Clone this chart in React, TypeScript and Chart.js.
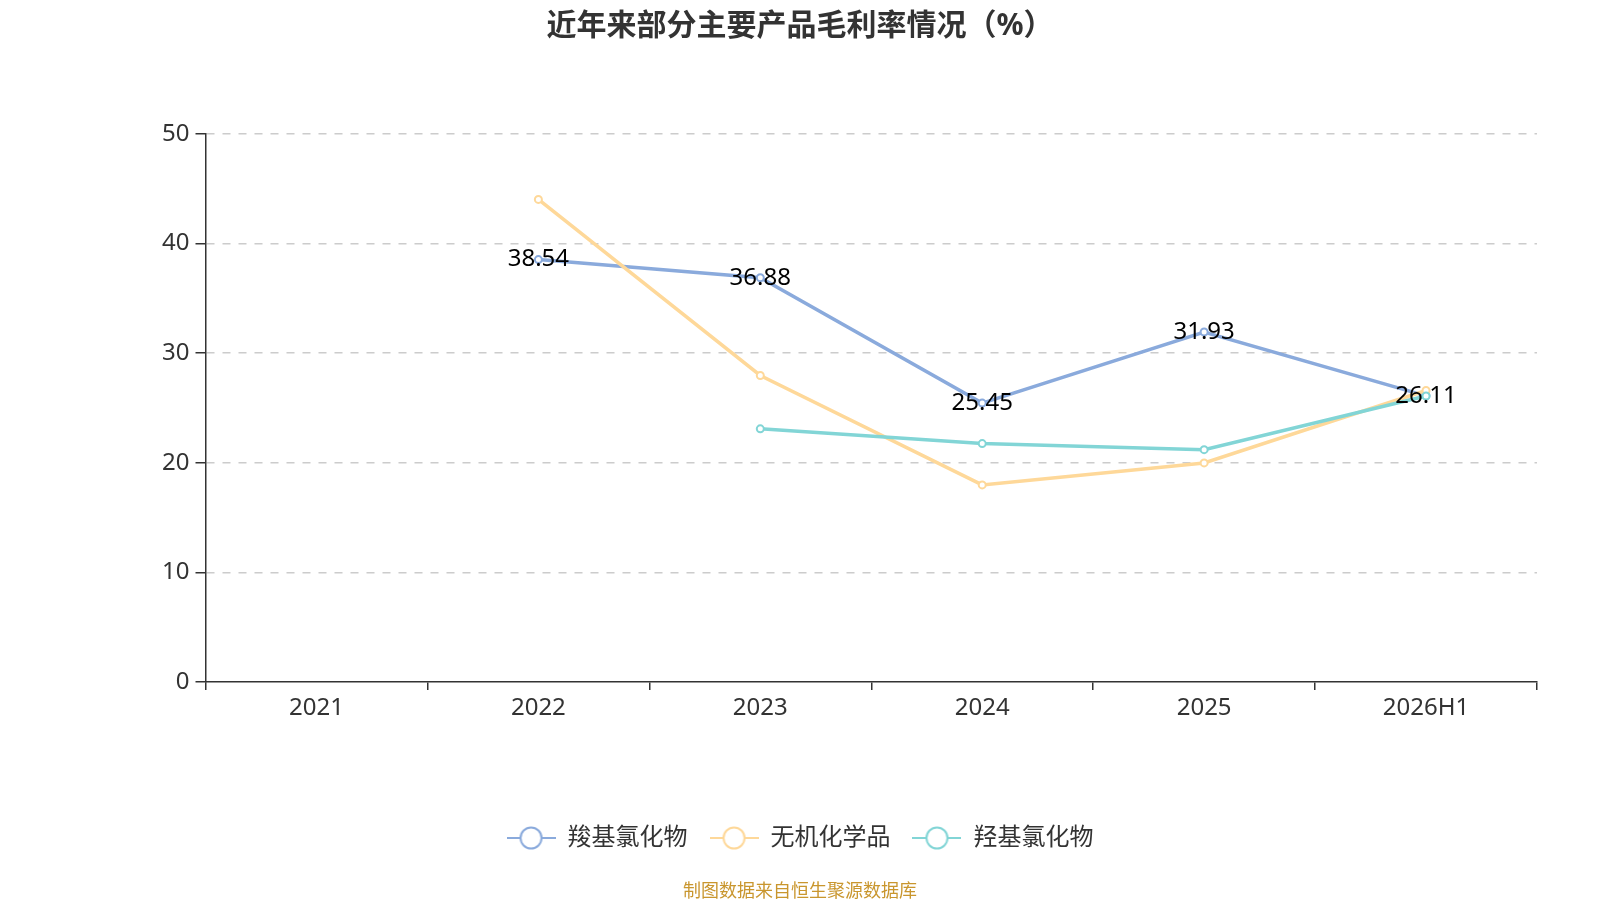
import { useEffect, useRef } from "react"
import { Chart, registerables } from "chart.js"

Chart.register(...registerables)

const FONT = "'Noto Sans', 'Noto Sans CJK SC', sans-serif"

const categories = ["2021", "2022", "2023", "2024", "2025", "2026H1"]
const carboxylChloride = [null, 38.54, 36.88, 25.45, 31.93, 26.11]
const inorganicChem = [null, 44.03, 27.97, 17.98, 19.99, 26.6]
const hydroxylChloride = [null, null, 23.1, 21.75, 21.2, 26.1]
const seriesNames = ["羧基氯化物", "无机化学品", "羟基氯化物"]
const seriesColors = ["#8aaadc", "#fed899", "#82d5d6"]
const yTicks = [0, 10, 20, 30, 40, 50]

// legend icon: short line with a hollow circle in the middle
function makeIcon(color: string) {
  const c = document.createElement("canvas")
  c.width = 49
  c.height = 26
  const ctx = c.getContext("2d")!
  ctx.strokeStyle = color
  ctx.lineWidth = 2
  ctx.beginPath()
  ctx.moveTo(0, 13)
  ctx.lineTo(49, 13)
  ctx.stroke()
  ctx.beginPath()
  ctx.arc(24.5, 13, 10.5, 0, Math.PI * 2)
  ctx.fillStyle = "#fff"
  ctx.fill()
  ctx.stroke()
  return c
}

// value labels on the first series
const valueLabels = {
  id: "valueLabels",
  afterDatasetsDraw(chart: any) {
    const { ctx } = chart
    const meta = chart.getDatasetMeta(0)
    ctx.save()
    ctx.font = `24px ${FONT}`
    ctx.fillStyle = "#000"
    ctx.textAlign = "center"
    ctx.textBaseline = "middle"
    meta.data.forEach((pt: any, i: number) => {
      const v = carboxylChloride[i]
      if (v == null) return
      ctx.fillText(v.toFixed(2), pt.x, pt.y)
    })
    ctx.restore()
  }
}

const sourceNote = {
  id: "sourceNote",
  afterDraw(chart: any) {
    const { ctx } = chart
    ctx.save()
    ctx.font = `18px ${FONT}`
    ctx.fillStyle = "#c9962e"
    ctx.textAlign = "center"
    ctx.textBaseline = "middle"
    ctx.fillText("制图数据来自恒生聚源数据库", chart.width / 2, 892)
    ctx.restore()
  }
}

export default function App() {
  const chartRef = useRef<HTMLCanvasElement>(null)
  const chartInstance = useRef<Chart | null>(null)

  useEffect(() => {
    if (!chartRef.current) return
    if (chartInstance.current) chartInstance.current.destroy()
    const icons = seriesColors.map(makeIcon)
    const values = [carboxylChloride, inorganicChem, hydroxylChloride]

    chartInstance.current = new Chart(chartRef.current, {
      type: "line",
      data: {
        labels: categories,
        datasets: values.map((d, i) => ({
          label: seriesNames[i],
          data: d,
          borderColor: seriesColors[i],
          backgroundColor: "#fff",
          borderWidth: 3.5,
          tension: 0,
          pointRadius: 3.5,
          pointBorderWidth: 2,
          pointBackgroundColor: "#fff",
          pointBorderColor: seriesColors[i],
          order: 3 - i
        }))
      },
      options: {
        animation: false,
        responsive: true,
        maintainAspectRatio: false,
        layout: { padding: { left: 63, right: 63, top: 0, bottom: 40 } },
        plugins: {
          title: {
            display: true,
            text: "近年来部分主要产品毛利率情况（%）",
            color: "#333",
            font: { family: FONT, size: 30, weight: "bold" },
            padding: { top: 8, bottom: 90 }
          },
          legend: {
            position: "bottom",
            labels: {
              usePointStyle: true,
              pointStyleWidth: 49,
              padding: 22,
              color: "#333",
              font: { family: FONT, size: 24 },
              generateLabels: (chart: any) =>
                chart.data.datasets.map((ds: any, i: number) => ({
                  text: ds.label,
                  fillStyle: "#fff",
                  strokeStyle: ds.borderColor,
                  lineWidth: 0,
                  pointStyle: icons[i],
                  datasetIndex: i,
                  hidden: false,
                  fontColor: "#333"
                }))
            }
          },
          tooltip: { enabled: false }
        },
        scales: {
          x: {
            offset: true,
            grid: {
              offset: true,
              drawOnChartArea: false,
              color: "#333",
              tickLength: 8,
              lineWidth: 1.5
            },
            border: { color: "#333", width: 1.5 },
            ticks: {
              color: "#333",
              padding: 4,
              font: { family: FONT, size: 24 }
            },
            afterFit: (s: any) => { s.height = 122 }
          },
          y: {
            min: 0,
            max: 50,
            afterBuildTicks: (s: any) => { s.ticks = yTicks.map(v => ({ value: v })) },
            grid: {
              color: (c: any) => (c.tick && c.tick.value === 0 ? "rgba(0,0,0,0)" : "#ccc"),
              tickColor: "#333",
              tickLength: 10,
              tickBorderDash: [],
              lineWidth: 1.5
            },
            border: { color: "#333", width: 1.5, dash: [8, 8] },
            ticks: {
              color: "#333",
              padding: 6,
              font: { family: FONT, size: 24 }
            },
            afterFit: (s: any) => { s.width = 142.5 }
          }
        }
      } as any,
      plugins: [valueLabels, sourceNote]
    })
    return () => { if (chartInstance.current) chartInstance.current.destroy() }
  }, [])

  return (
    <div style={{ position: "fixed", left: 0, top: 0, width: 1600, height: 900, background: "#fff" }}>
      <canvas ref={chartRef} />
    </div>
  )
}
